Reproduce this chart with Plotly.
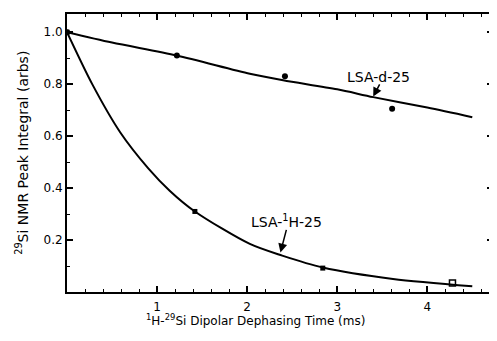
import plotly.graph_objects as go

# Data points
d25_t = [0.0, 1.22, 2.42, 3.61]
d25_y = [1.0, 0.91, 0.83, 0.705]
h25_t = [0.0, 1.42, 2.84]
h25_y = [1.0, 0.31, 0.092]
h25_open_t = [4.28]
h25_open_y = [0.035]

# Fitted curves
d25_fit_t = [0.0, 0.5, 1.22, 2.03, 2.4, 3.0, 3.4, 4.0, 4.5]
d25_fit_y = [1.0, 0.96, 0.91, 0.84, 0.815, 0.78, 0.75, 0.71, 0.673]
h25_fit_t = [0.0, 0.28, 0.59, 0.9, 1.14, 1.42, 2.03, 2.39, 2.84, 3.62, 4.5]
h25_fit_y = [1.0, 0.8, 0.615, 0.477, 0.39, 0.31, 0.185, 0.14, 0.094, 0.05, 0.022]

y_ticks = [0.2, 0.4, 0.6, 0.8, 1.0]
y_ticklabels = ["0.2", "0.4", "0.6", "0.8", "1.0"]
x_ticks = [1, 2, 3, 4]
x_ticklabels = ["1", "2", "3", "4"]

FONT = "DejaVu Sans"

fig = go.Figure()
fig.add_trace(go.Scatter(x=d25_fit_t, y=d25_fit_y, mode="lines",
                         line=dict(color="black", width=2, shape="spline", smoothing=0.8),
                         showlegend=False, hoverinfo="skip"))
fig.add_trace(go.Scatter(x=h25_fit_t, y=h25_fit_y, mode="lines",
                         line=dict(color="black", width=2, shape="spline", smoothing=0.8),
                         showlegend=False, hoverinfo="skip"))
fig.add_trace(go.Scatter(x=d25_t, y=d25_y, mode="markers",
                         marker=dict(symbol="circle", size=6, color="black"),
                         showlegend=False))
fig.add_trace(go.Scatter(x=h25_t, y=h25_y, mode="markers",
                         marker=dict(symbol="square", size=5, color="black"),
                         showlegend=False))
fig.add_trace(go.Scatter(x=h25_open_t, y=h25_open_y, mode="markers",
                         marker=dict(symbol="square-open", size=6, color="black",
                                     line=dict(width=1.5)),
                         showlegend=False))

# Labels with arrows
fig.add_annotation(x=3.46, y=0.828, xref="x", yref="y", text="LSA-d-25",
                   showarrow=False, font=dict(family=FONT, size=14, color="black"))
fig.add_annotation(x=3.40, y=0.752, ax=3.48, ay=0.805, xref="x", yref="y",
                   axref="x", ayref="y", text="", showarrow=True,
                   arrowhead=2, arrowsize=1.2, arrowwidth=1.5, arrowcolor="black")
fig.add_annotation(x=2.44, y=0.272, xref="x", yref="y",
                   text="LSA-<sup>1</sup>H-25",
                   showarrow=False, font=dict(family=FONT, size=14, color="black"))
fig.add_annotation(x=2.37, y=0.152, ax=2.44, ay=0.245, xref="x", yref="y",
                   axref="x", ayref="y", text="", showarrow=True,
                   arrowhead=2, arrowsize=1.2, arrowwidth=1.5, arrowcolor="black")

# Axis titles
fig.add_annotation(x=0.443, y=-0.1, xref="paper", yref="paper",
                   xanchor="center", yanchor="middle",
                   text="<sup>1</sup>H-<sup>29</sup>Si Dipolar Dephasing Time (ms)",
                   showarrow=False, font=dict(family=FONT, size=12, color="black"))
fig.add_annotation(x=-0.106, y=0.5, xref="paper", yref="paper", textangle=-90,
                   xanchor="center", yanchor="middle",
                   text="<sup>29</sup>Si NMR Peak Integral (arbs)",
                   showarrow=False, font=dict(family=FONT, size=14, color="black"))

axis_common = dict(showgrid=False, zeroline=False, showline=True, linecolor="black",
                   linewidth=2, mirror="ticks", ticks="inside", ticklen=6,
                   tickwidth=1.5, tickcolor="black", automargin=False,
                   tickfont=dict(family=FONT, size=12, color="black"))

fig.update_xaxes(range=[0, 4.73], tickvals=x_ticks, ticktext=x_ticklabels,
                 ticklabelstandoff=3,
                 minor=dict(dtick=0.2, tick0=0, ticks="inside", ticklen=3,
                            tickcolor="black", tickwidth=1),
                 **axis_common)
fig.update_yaxes(range=[0, 1.07], tickvals=y_ticks, ticktext=y_ticklabels,
                 minor=dict(dtick=0.1, tick0=0, ticks="inside", ticklen=3,
                            tickcolor="black", tickwidth=1),
                 **axis_common)

# The page body adds an 8px margin, so the figure is 8px smaller on each axis
fig.update_layout(width=489, height=333,
                  margin=dict(l=59, r=4, t=6, b=49, autoexpand=False),
                  plot_bgcolor="white", paper_bgcolor="white",
                  showlegend=False)

fig.write_html("out.html")
